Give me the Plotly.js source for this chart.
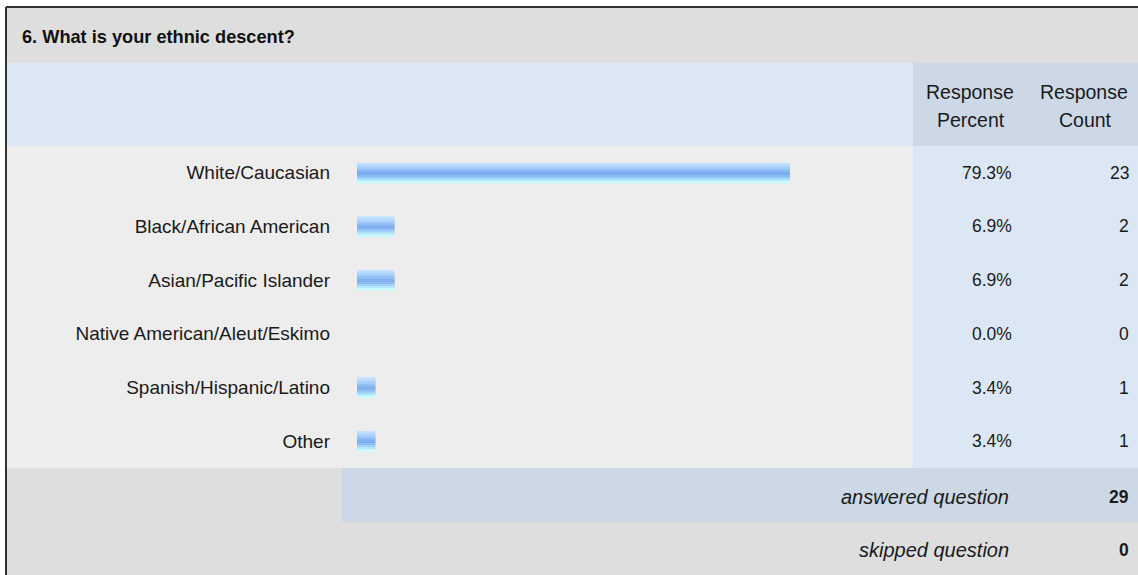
<!DOCTYPE html>
<html>
<head>
<meta charset="utf-8">
<script src="https://cdn.plot.ly/plotly-3.0.1.min.js"></script>
<style>
  html, body { margin: 0; padding: 0; background: #ffffff; }
  #chart { width: 1138px; height: 575px; }
</style>
</head>
<body>
<div id="chart"></div>
<script>
const questionTitle = "6. What is your ethnic descent?";
const categories = [
  "White/Caucasian",
  "Black/African American",
  "Asian/Pacific Islander",
  "Native American/Aleut/Eskimo",
  "Spanish/Hispanic/Latino",
  "Other"
];
const responsePercent = [79.3, 6.9, 6.9, 0.0, 3.4, 3.4];
const responseCount = [23, 2, 2, 0, 1, 1];
const answeredQuestion = 29;
const skippedQuestion = 0;
const headerPercent = ["Response", "Percent"];
const headerCount = ["Response", "Count"];

const W = 1138, H = 575;
const px = v => v / W;
const py = v => 1 - v / H;
const FONT = "Liberation Sans, Arial, sans-serif";
const TEXT = "#1a1a1a";

// vertical gradient of the bars, top to bottom
const stripeColors = ["#c2e1ff", "#b5d8ff", "#a6cefc", "#94c0f7", "#80b1f1",
                      "#77aaee", "#86bbf3", "#9ed0f8", "#b4e8fc", "#c8fcff"];
const barSpan = 0.38;
const stripe = barSpan / stripeColors.length;

const traces = stripeColors.map((c, i) => ({
  type: "bar",
  orientation: "h",
  x: responsePercent,
  y: categories,
  width: stripe + 0.004,
  offset: -barSpan / 2 + i * stripe,
  marker: { color: c, line: { width: 0 } },
  hoverinfo: "skip",
  showlegend: false
}));

function rect(x0, y0, x1, y1, color) {
  return { type: "rect", xref: "paper", yref: "paper", layer: "below",
    x0: px(x0), x1: px(x1), y0: py(y1), y1: py(y0),
    fillcolor: color, line: { width: 0 } };
}
function line(x0, y0, x1, y1) {
  return { type: "line", xref: "paper", yref: "paper", layer: "above",
    x0: px(x0), x1: px(x1), y0: py(y0), y1: py(y1),
    line: { color: "#333333", width: 2 } };
}

const shapes = [
  rect(6, 8, 1138, 63, "#dedede"),
  rect(6, 63, 913, 146, "#dce7f5"),
  rect(913, 63, 1138, 146, "#cdd8e6"),
  rect(6, 146, 913, 468, "#ededed"),
  rect(913, 146, 1138, 468, "#dce7f5"),
  rect(6, 468, 342, 522, "#dedede"),
  rect(342, 468, 1138, 522, "#cdd8e6"),
  rect(6, 522, 1138, 575, "#dedede"),
  line(6, 7, 1138, 7),
  line(6, 7, 6, 575)
];

const txt = (text, x, y, xanchor, size) => ({
  text: text, xref: "paper", yref: "paper", x: px(x), y: py(y),
  xanchor: xanchor, yanchor: "middle", showarrow: false,
  font: { family: FONT, size: size, color: TEXT }
});

const annotations = [];
categories.forEach((c, i) => {
  annotations.push({
    text: responsePercent[i].toFixed(1) + "%", xref: "paper", yref: "y",
    x: px(1014), y: c, xanchor: "right", yanchor: "middle", showarrow: false,
    font: { family: FONT, size: 17.5, color: TEXT }
  });
  annotations.push({
    text: String(responseCount[i]), xref: "paper", yref: "y",
    x: px(1131), y: c, xanchor: "right", yanchor: "middle", showarrow: false,
    font: { family: FONT, size: 17.5, color: TEXT }
  });
});
annotations.push(txt(headerPercent[0], 970, 92, "center", 19.5));
annotations.push(txt(headerPercent[1], 971, 120, "center", 19.5));
annotations.push(txt(headerCount[0], 1084, 92, "center", 19.5));
annotations.push(txt(headerCount[1], 1085, 120, "center", 19.5));
annotations.push(txt("<i>answered question</i>", 1011, 497, "right", 20));
annotations.push(txt("<b>" + answeredQuestion + "</b>", 1131, 497, "right", 17.5));
annotations.push(txt("<i>skipped question</i>", 1011, 550, "right", 20));
annotations.push(txt("<b>" + skippedQuestion + "</b>", 1131, 550, "right", 17.5));

const layout = {
  width: W, height: H,
  margin: { l: 0, r: 0, t: 0, b: 0, pad: 0 },
  paper_bgcolor: "#ffffff",
  plot_bgcolor: "rgba(0,0,0,0)",
  barmode: "overlay",
  showlegend: false,
  title: {
    text: "<b>" + questionTitle + "</b>",
    x: px(22), xanchor: "left", xref: "paper",
    y: py(37), yanchor: "middle", yref: "paper",
    font: { family: FONT, size: 18.2, color: "#111111" }
  },
  xaxis: {
    domain: [px(357), px(903)], range: [0, 100],
    showgrid: false, zeroline: false, showticklabels: false, ticks: "",
    fixedrange: true
  },
  yaxis: {
    domain: [py(468), py(146)], type: "category",
    categoryarray: categories, categoryorder: "array",
    range: [categories.length - 0.5, -0.5],
    showgrid: false, zeroline: false, ticks: "", showline: false,
    ticklabelstandoff: 26,
    tickfont: { family: FONT, size: 19, color: TEXT },
    fixedrange: true
  },
  shapes: shapes,
  annotations: annotations
};

Plotly.newPlot("chart", traces, layout, { displayModeBar: false, staticPlot: true });
</script>
</body>
</html>
